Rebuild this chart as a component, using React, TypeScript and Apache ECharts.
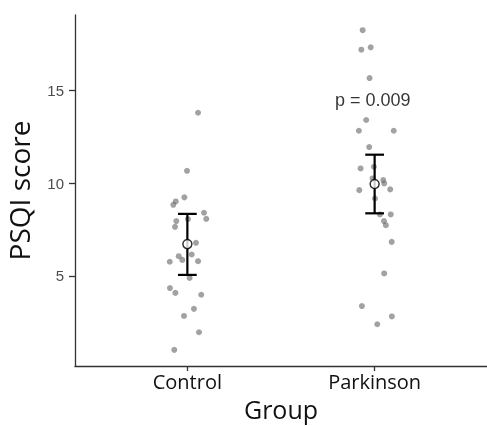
import React, { useEffect, useRef } from "react";
import * as echarts from "echarts";

const groups = ["Control", "Parkinson"];
const groupPositions = [1, 2];

const controlScores = [13.79, 10.66, 9.23, 9.01, 8.83, 8.4, 8.07, 7.95, 8.06, 7.64, 6.78, 6.06, 6.15, 5.86, 5.76, 5.79, 4.89, 4.34, 4.08, 3.98, 3.22, 2.84, 1.96, 1.01];
const controlX = [1.057, 0.998, 0.984, 0.938, 0.925, 1.089, 1.101, 0.941, 1.003, 0.934, 1.046, 0.954, 1.023, 0.973, 0.906, 1.057, 1.012, 0.907, 0.936, 1.074, 1.035, 0.982, 1.062, 0.93];

const parkinsonScores = [18.24, 17.19, 17.32, 15.66, 13.4, 12.82, 12.82, 11.94, 10.79, 10.88, 10.25, 10.16, 9.98, 9.62, 9.66, 9.17, 8.31, 8.31, 7.95, 7.73, 6.83, 5.13, 3.37, 2.81, 2.39];
const parkinsonX = [1.936, 1.929, 1.979, 1.973, 1.955, 1.916, 2.102, 1.971, 1.925, 1.996, 1.989, 2.046, 2.051, 1.918, 2.083, 2.002, 2.028, 2.086, 2.05, 2.06, 2.091, 2.051, 1.932, 2.092, 2.014];

const groupMeans = [6.71, 9.95];
const groupLower = [5.05, 8.37];
const groupUpper = [8.34, 11.53];

const yTicks = [5, 10, 15];
const pValueText = "p = 0.009";
const pValuePos = [1.99, 14.48];

export default function App() {
  const ref = useRef<HTMLDivElement>(null);
  useEffect(() => {
    if (!ref.current) return;
    const chart = echarts.init(ref.current, undefined, { renderer: "svg" });
    const pointColor = "rgba(100,100,100,0.75)";
    const points = [
      ...controlScores.map((v, i) => [controlX[i], v]),
      ...parkinsonScores.map((v, i) => [parkinsonX[i], v]),
    ];
    const errData = groupPositions.map((p, i) => [p, groupLower[i], groupUpper[i], groupMeans[i]]);
    chart.setOption({
      animation: false,
      grid: { left: 75, right: 0, top: 15, bottom: 60, outerBoundsMode: "none", containLabel: false },
      xAxis: {
        type: "value",
        min: 0.4,
        max: 2.6,
        name: "Group",
        nameLocation: "middle",
        nameGap: 29,
        nameTextStyle: { fontFamily: "Open Sans", fontSize: 25, color: "#111", lineHeight: 26 },
        splitLine: { show: false },
        axisLine: { show: true, lineStyle: { color: "#333", width: 1.3 } },
        axisTick: { show: true, customValues: groupPositions, length: 5, lineStyle: { color: "#333", width: 1.3 } },
        axisLabel: {
          customValues: groupPositions,
          formatter: (v: number) => groups[Math.round(v) - 1] ?? "",
          fontFamily: "Open Sans",
          fontSize: 20,
          color: "#111",
          margin: 5,
        },
      },
      yAxis: {
        type: "value",
        min: 0.14,
        max: 19.06,
        name: "PSQI score",
        nameLocation: "middle",
        nameGap: 42,
        nameTextStyle: { fontFamily: "Open Sans", fontSize: 28, color: "#111" },
        splitLine: { show: false },
        axisLine: { show: true, lineStyle: { color: "#333", width: 1.3 } },
        axisTick: { show: true, customValues: yTicks, length: 6, lineStyle: { color: "#333", width: 1.3 } },
        axisLabel: {
          customValues: yTicks,
          fontFamily: "Liberation Sans",
          fontSize: 15,
          color: "#4d4d4d",
          margin: 11,
        },
      },
      series: [
        {
          type: "scatter",
          data: points,
          symbolSize: 6,
          itemStyle: { color: pointColor },
          z: 2,
        },
        {
          type: "custom",
          data: errData,
          z: 3,
          renderItem: (params: any, api: any) => {
            const x = api.value(0);
            const lo = api.value(1);
            const hi = api.value(2);
            const pLo = api.coord([x, lo]);
            const pHi = api.coord([x, hi]);
            const cl = api.coord([x - 0.05, hi]);
            const cr = api.coord([x + 0.05, hi]);
            const half = (cr[0] - cl[0]) / 2;
            const style = { stroke: "#000", lineWidth: 2.2 };
            return {
              type: "group",
              children: [
                { type: "line", shape: { x1: pLo[0], y1: pLo[1], x2: pHi[0], y2: pHi[1] }, style },
                { type: "line", shape: { x1: pHi[0] - half, y1: pHi[1], x2: pHi[0] + half, y2: pHi[1] }, style },
                { type: "line", shape: { x1: pLo[0] - half, y1: pLo[1], x2: pLo[0] + half, y2: pLo[1] }, style },
              ],
            };
          },
        },
        {
          type: "scatter",
          data: groupPositions.map((p, i) => [p, groupMeans[i]]),
          symbolSize: 9,
          itemStyle: { color: "#fff", borderColor: "#000", borderWidth: 1.5 },
          z: 4,
        },
        {
          type: "scatter",
          data: [pValuePos],
          symbolSize: 0,
          silent: true,
          label: {
            show: true,
            position: "inside",
            formatter: pValueText,
            fontFamily: "Liberation Sans",
            fontSize: 18,
            color: "#000",
          },
          z: 5,
        },
      ],
    });
    return () => chart.dispose();
  }, []);
  return <div ref={ref} style={{ width: 487, height: 426, position: "fixed", left: 0, top: 0 }} />;
}
